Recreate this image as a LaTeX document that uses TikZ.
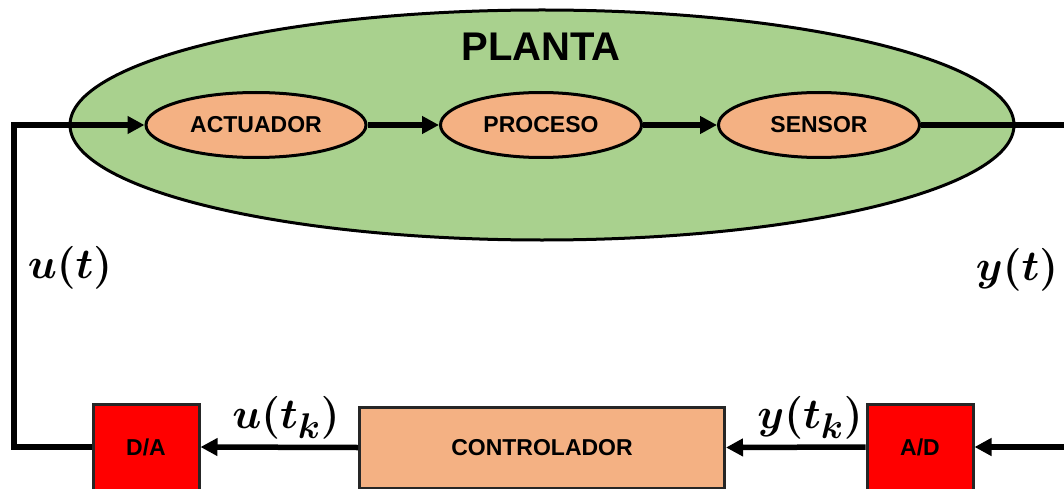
\documentclass[tikz,border=0pt]{standalone}
\usepackage{bm}
\usepackage{fontspec}
\setmainfont{Liberation Sans}
\usetikzlibrary{shapes.geometric,arrows.meta}
\definecolor{plantgreen}{HTML}{A9D18E}
\definecolor{blockorange}{HTML}{F4B183}
\definecolor{convred}{HTML}{FF0000}
\tikzset{
  wire/.style={line width=5.5pt},
  flow/.style={wire,-{Triangle[length=17pt,width=17pt]}},
  plantshape/.style={ellipse,draw,line width=3pt,fill=plantgreen,inner sep=0pt},
  stage/.style={ellipse,draw,line width=3pt,fill=blockorange,inner sep=0pt,
    minimum height=65pt,font=\bfseries\fontsize{23}{26}\selectfont},
  convbox/.style={rectangle,draw=black!85,line width=3pt,fill=convred,inner sep=0pt,
    minimum width=106pt,minimum height=86pt,font=\bfseries\fontsize{23}{26}\selectfont},
  ctrlbox/.style={rectangle,draw=black!85,line width=3pt,fill=blockorange,inner sep=0pt,
    minimum width=365pt,minimum height=81pt,font=\bfseries\fontsize{23}{26}\selectfont},
  siglabel/.style={inner sep=0pt,font=\Huge,scale=1.72,transform shape}
}
\begin{document}
\begin{tikzpicture}[x=1pt,y=-1pt]
\useasboundingbox (0,0) rectangle (1064,489);
\clip (0,0) rectangle (1064,489);

% plant with its three stages
\node[plantshape,minimum width=944pt,minimum height=230pt] (plant) at (542,125) {};
\node[inner sep=0pt,font=\bfseries\fontsize{40}{44}\selectfont] (plantlabel) at (541,47) {PLANTA};
\node[stage,minimum width=220pt] (act) at (256,125) {ACTUADOR};
\node[stage,minimum width=201pt] (proc) at (541,125) {PROCESO};
\node[stage,minimum width=201pt] (sens) at (819,125) {SENSOR};

% digital side
\node[convbox] (da) at (146,447) {D/A};
\node[ctrlbox] (ctrl) at (542,447.5) {CONTROLADOR};
\node[convbox] (ad) at (920,447) {A/D};

% loop corners
\coordinate (lcorner) at (14,447);
\coordinate (rcorner) at (1072,447);

% connectors
\draw[flow] (act.east) -- (proc.west);
\draw[flow] (proc.east) -- (sens.west);
\draw[flow] (sens.east) -- (sens.east -| rcorner) -- (rcorner) -- (ad.east);
\draw[flow] (ad.west) -- (ctrl.east);
\draw[flow] (ctrl.west) -- (da.east);
\draw[flow] (da.west) -- (lcorner) |- (act.west);

% signal labels
\node[siglabel] (uc) at (70,268) {$\bm{u(t)}$};
\node[siglabel] (yc) at (1017,270) {$\bm{y(t)}$};
\node[siglabel] (ud) at (286,418) {$\bm{u(t_k)}$};
\node[siglabel] (yd) at (810,418) {$\bm{y(t_k)}$};
\end{tikzpicture}
\end{document}
